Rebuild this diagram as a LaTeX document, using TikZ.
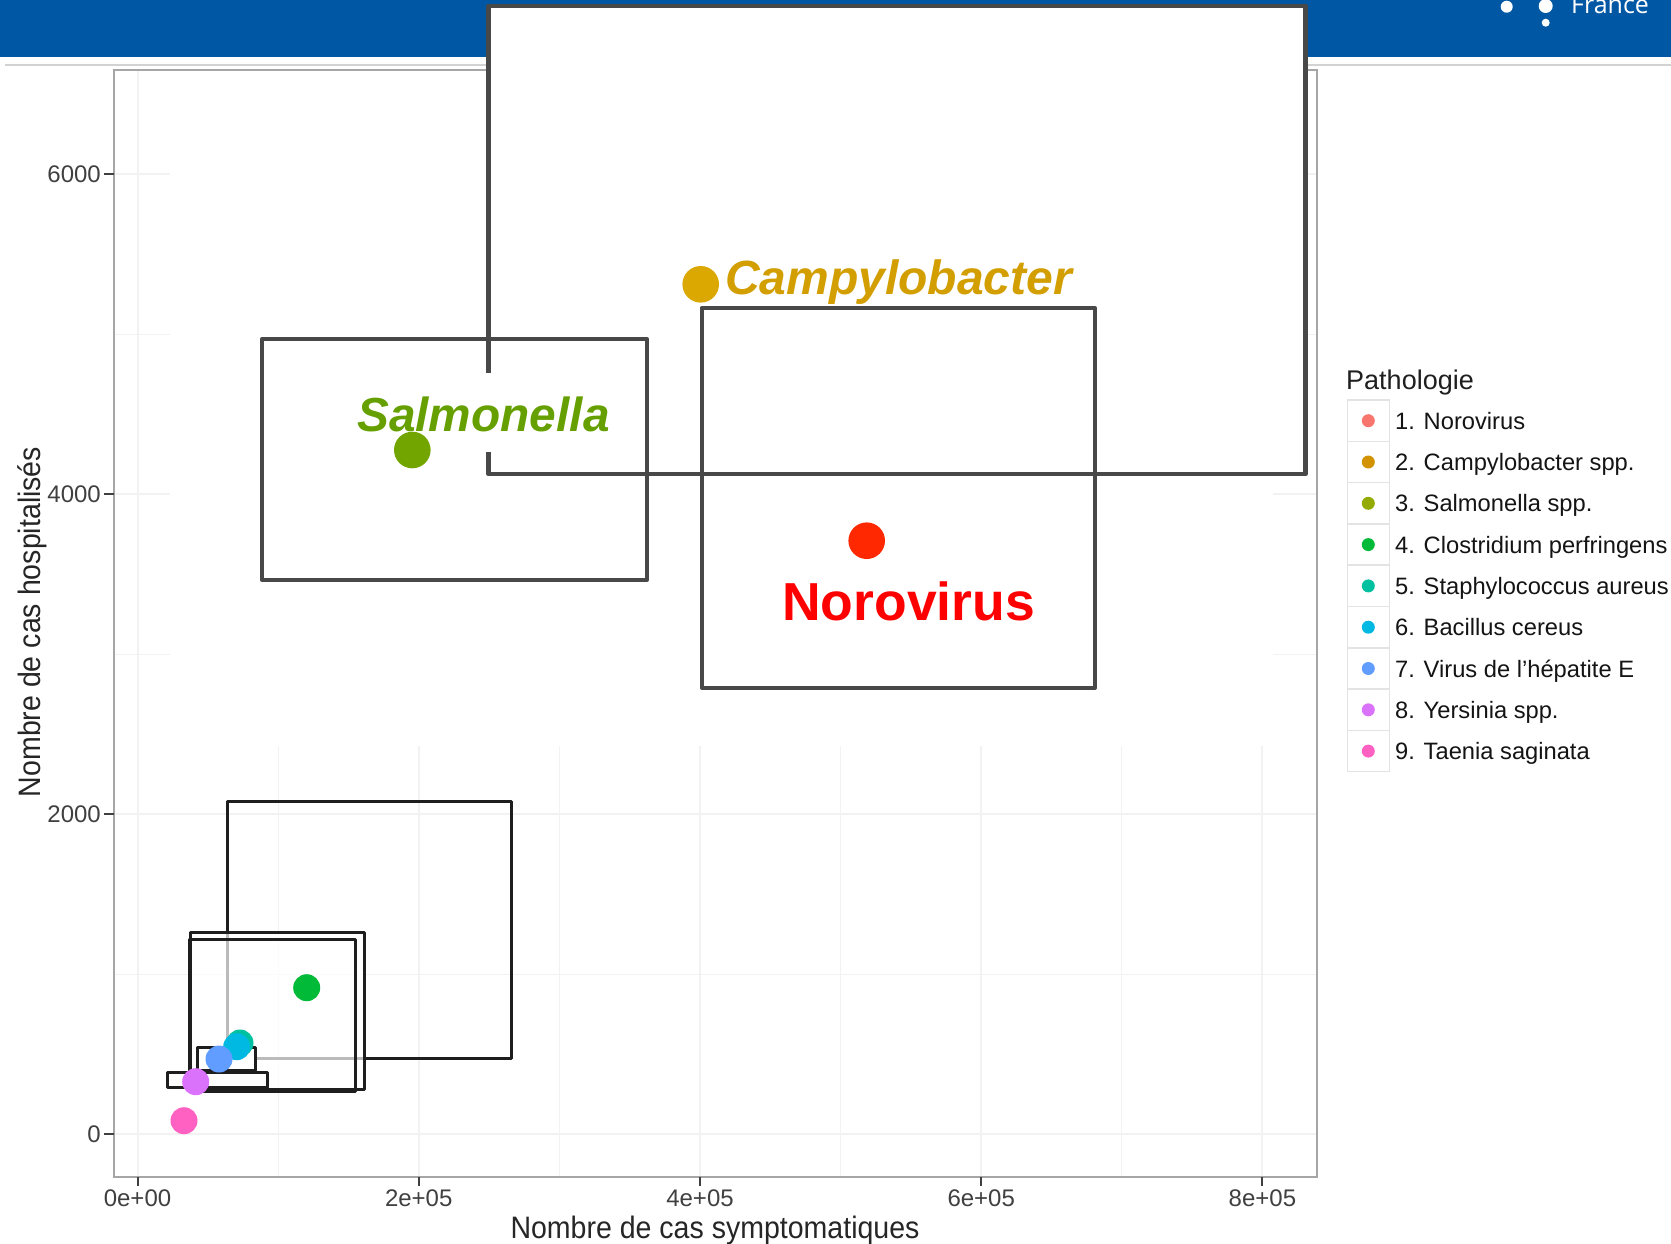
\documentclass[tikz,border=0pt]{standalone}
\usepackage{fontspec}
\setmainfont{Liberation Sans}
\newfontfamily\bannerfont{Open Sans}
\definecolor{banner}{RGB}{0,87,164}
\definecolor{gridc}{RGB}{242,242,242}
\definecolor{panelc}{RGB}{166,166,166}
\definecolor{ticktxt}{RGB}{64,64,64}
\definecolor{boxdark}{RGB}{72,72,72}
\definecolor{boxblack}{RGB}{30,30,30}
\definecolor{noroT}{RGB}{255,0,0}
\definecolor{noroP}{RGB}{255,40,0}
\definecolor{campyT}{RGB}{210,158,0}
\definecolor{campyP}{RGB}{218,168,0}
\definecolor{salmoT}{RGB}{102,160,0}
\definecolor{salmoP}{RGB}{114,165,0}
\definecolor{c1}{HTML}{F8766D}
\definecolor{c2}{HTML}{D39200}
\definecolor{c3}{HTML}{93AA00}
\definecolor{c4}{HTML}{00BA38}
\definecolor{c5}{HTML}{00C19F}
\definecolor{c6}{HTML}{00B9E3}
\definecolor{c7}{HTML}{619CFF}
\definecolor{c8}{HTML}{DB72FB}
\definecolor{c9}{HTML}{FF61C3}
\begin{document}
\begin{tikzpicture}[x=1pt,y=-1pt,
  datapt/.style={circle,inner sep=0pt,minimum size=#1,draw=none},
  majorgrid/.style={draw=gridc,line width=2},
  minorgrid/.style={draw=gridc,line width=1},
  bigbox/.style={draw=boxdark,line width=4.3,line join=round},
  smallbox/.style={draw=boxblack,line width=3,line join=round},
  ticklab/.style={font=\fontsize{24}{26}\selectfont,text=ticktxt,inner sep=0pt},
  legtxt/.style={font=\fontsize{23.7}{26}\selectfont,text=black!92,inner sep=0pt,anchor=base west},
  keybox/.style={draw=gray!22,fill=white,line width=1.5}]
\useasboundingbox (0,0) rectangle (1671,1243);
\fill[white] (0,0) rectangle (1671,1243);

% header band
\fill[banner] (0,0) rectangle (1671,57);
\draw[gray!35,line width=1.5] (5,65) -- (1671,65);
\node[datapt=12,fill=white] (dotA) at (1506.7,6.7) {};
\node[datapt=14,fill=white] (dotB) at (1545.7,6) {};
\node[datapt=8,fill=white] (dotC) at (1545.7,22.7) {};
\node[anchor=base west,inner sep=0pt,text=white,font=\bannerfont\fontsize{25}{27}\selectfont] (country) at (1571,13) {France};

% grid
\foreach \yy in {334,654,974} \draw[minorgrid] (114,\yy) -- (1317,\yy);
\foreach \xx in {278.1,559.3,840.6,1121.8} \draw[minorgrid] (\xx,70) -- (\xx,1177);
\foreach \yy in {174,494,814,1134} \draw[majorgrid] (114,\yy) -- (1317,\yy);
\foreach \xx in {137.5,418.7,700,981.2,1262.4} \draw[majorgrid] (\xx,70) -- (\xx,1177);
\fill[white] (170,71) rectangle (1273,746);

% panel frame and ticks
\draw[panelc,line width=2] (114,70) rectangle (1317,1177);
\foreach \yy/\lab in {174/6000,494/4000,814/2000,1134/0}{
  \draw[black!75,line width=2] (104,\yy) -- (114,\yy);
  \node[ticklab,anchor=base east] at (101,\yy+8.5) {\lab};
}
\foreach \xx/\lab in {137.5/0e+00,418.7/2e+05,700/4e+05,981.2/6e+05,1262.4/8e+05}{
  \draw[black!75,line width=2] (\xx,1177) -- (\xx,1186);
  \node[ticklab,anchor=base] at (\xx,1206.5) {\lab};
}
\node[anchor=base,inner sep=0pt,font=\fontsize{31}{33}\selectfont,text=black!85] (xtitle) at (715,1238) {\scalebox{0.92}[1]{Nombre de cas symptomatiques}};
\node[anchor=base,inner sep=0pt,rotate=90,font=\fontsize{31}{33}\selectfont,text=black!85] (ytitle) at (40.5,622) {\scalebox{0.92}[1]{Nombre de cas hospitalisés}};

% lower cluster of intervals
\draw[smallbox] (227.3,801.5) rectangle (511.7,1058.3);
\draw[smallbox,fill=white,fill opacity=0.7] (190.7,932.3) rectangle (364.3,1089.3);
\draw[smallbox] (189,939.3) rectangle (355,1091.7);
\draw[smallbox,fill=white] (197.7,1047.3) rectangle (255.7,1070.7);
\draw[smallbox,fill=white] (167.7,1072.3) rectangle (267,1087.3);
\node[datapt=27,fill=c4] (clos) at (306.7,987.7) {};
\node[datapt=27,fill=c5] (staph) at (240,1043) {};
\node[datapt=27,fill=c6] (bac) at (236.7,1046.7) {};
\node[datapt=27,fill=c7] (hepE) at (219,1059) {};
\node[datapt=27,fill=c8] (yers) at (195.7,1081.7) {};
\node[datapt=27,fill=c9] (taen) at (184,1120.7) {};

% upper intervals
\draw[bigbox,fill=white,line width=4.6] (488.5,6) rectangle (1305.5,474);
\draw[bigbox] (262.3,339) rectangle (646.7,580);
\draw[bigbox] (701.7,308.3) rectangle (1095,687.7);

\node[anchor=base west,inner xsep=3pt,inner ysep=0pt,text height=58.7,text depth=20,fill=white,
  text=salmoT,font=\bfseries\itshape\fontsize{47.8}{50}\selectfont] (salmoLab) at (354,431.7) {Salmonella};
\node[datapt=36.6,fill=salmoP] (salmo) at (412.3,450) {};

\node[anchor=base west,inner sep=0pt,text=campyT,font=\bfseries\itshape\fontsize{48}{50}\selectfont] (campyLab) at (725,294) {Campylobacter};
\node[datapt=36.6,fill=campyP] (campy) at (700.7,284.3) {};

\node[datapt=36.6,fill=noroP] (noro) at (866.7,540.7) {};
\node[anchor=base west,inner sep=0pt,text=noroT,font=\bfseries\fontsize{53.5}{56}\selectfont] (noroLab) at (782,620.7) {Norovirus};

% legend
\node[anchor=base west,inner sep=0pt,font=\fontsize{27}{29}\selectfont,text=black!88] (legTitle) at (1346,389.3) {Pathologie};
\foreach \i/\col/\lab in {0/c1/{1. Norovirus},1/c2/{2. Campylobacter spp.},2/c3/{3. Salmonella spp.},
  3/c4/{4. Clostridium perfringens},4/c5/{5. Staphylococcus aureus},5/c6/{6. Bacillus cereus},
  6/c7/{7. Virus de l'hépatite E},7/c8/{8. Yersinia spp.},8/c9/{9. Taenia saginata}}{
  \draw[keybox] (1347.3,400+41.3*\i) rectangle (1389.3,441.3+41.3*\i);
  \node[datapt=13,fill=\col] (key\i) at (1368.3,420.7+41.3*\i) {};
  \node[legtxt] (lab\i) at (1395,429.2+41.3*\i) {\lab};
}
\end{tikzpicture}
\end{document}
